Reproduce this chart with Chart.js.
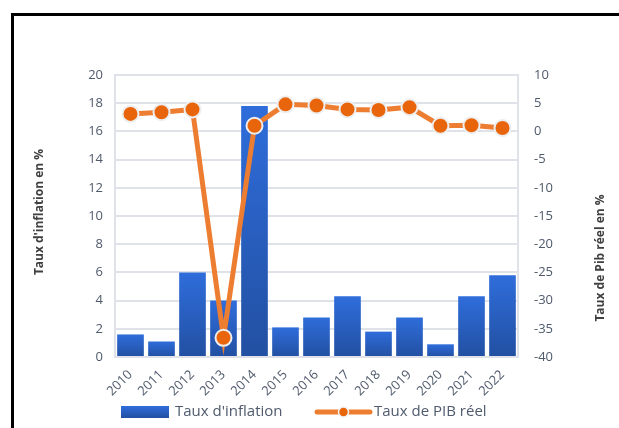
<!DOCTYPE html>
<html>
<head>
<meta charset="utf-8">
<script src="https://cdn.jsdelivr.net/npm/chart.js@4"></script>
<style>
    html, body { margin: 0; padding: 0; background: #fff; overflow: hidden; }
    #wrap { position: relative; width: 619px; height: 428px; }
    #frame { position: absolute; left: 11px; top: 13px; width: 700px; height: 500px; border: 3px solid #000; box-sizing: border-box; }
    #chart { position: absolute; left: 0; top: 0; }
</style>
</head>
<body>
<div id="wrap">
    <div id="frame"></div>
    <canvas id="chart" width="619" height="428"></canvas>
</div>
<script>
const years = ['2010', '2011', '2012', '2013', '2014', '2015', '2016', '2017', '2018', '2019', '2020', '2021', '2022'];
const inflation = [1.6, 1.1, 6.0, 4.0, 17.8, 2.1, 2.8, 4.3, 1.8, 2.8, 0.9, 4.3, 5.8];
const gdp = [3.1, 3.4, 3.9, -36.6, 1.0, 4.8, 4.6, 3.9, 3.8, 4.3, 1.0, 1.1, 0.6];

const inflationLabel = "Taux d'inflation";
const gdpLabel = 'Taux de PIB réel';
const leftTitle = "Taux d'inflation en %";
const rightTitle = 'Taux de Pib réel en %';

const FONT = "'Open Sans', 'DejaVu Sans', sans-serif";
const GRID = '#dfe3e9';
const TICK = '#4f5a6c';
const ORANGE = '#ed7d31';

const barGradient = (context) => {
    const chart = context.chart;
    if (!chart.chartArea || context.parsed == null) return '#2a5fc4';
    const yScale = chart.scales.y;
    const top = yScale.getPixelForValue(context.parsed.y);
    const bottom = yScale.getPixelForValue(0);
    const g = chart.ctx.createLinearGradient(0, top, 0, bottom);
    g.addColorStop(0, '#2f6ddb');
    g.addColorStop(1, '#2250a2');
    return g;
};

const axisTitles = {
    id: 'axisTitles',
    afterDraw(chart) {
        const { ctx, chartArea } = chart;
        ctx.save();
        ctx.font = `bold 12px ${FONT}`;
        ctx.fillStyle = '#404040';
        ctx.textAlign = 'center';
        ctx.textBaseline = 'middle';

        ctx.save();
        ctx.translate(40, (chartArea.top + chartArea.bottom) / 2 - 4);
        ctx.rotate(-Math.PI / 2);
        ctx.fillText(leftTitle, 0, 0);
        ctx.restore();

        ctx.save();
        ctx.translate(601, (chartArea.top + chartArea.bottom) / 2 + 42);
        ctx.rotate(-Math.PI / 2);
        ctx.fillText(rightTitle, 0, 0);
        ctx.restore();

        ctx.restore();
    }
};

const customLegend = {
    id: 'customLegend',
    afterDraw(chart) {
        const { ctx, chartArea } = chart;
        const y = chart.height - 16;
        ctx.save();
        ctx.font = `15px ${FONT}`;
        ctx.textBaseline = 'middle';
        ctx.fillStyle = TICK;

        let x = chartArea.left + 6;
        const g = ctx.createLinearGradient(0, y - 6, 0, y + 6);
        g.addColorStop(0, '#2f6ddb');
        g.addColorStop(1, '#2250a2');
        ctx.fillStyle = g;
        ctx.fillRect(x, y - 6, 48, 12);
        x += 54;
        ctx.fillStyle = TICK;
        ctx.fillText(inflationLabel, x, y);

        x = chartArea.left + 202;
        ctx.strokeStyle = ORANGE;
        ctx.lineWidth = 5;
        ctx.lineCap = 'round';
        ctx.beginPath();
        ctx.moveTo(x, y);
        ctx.lineTo(x + 53, y);
        ctx.stroke();
        ctx.beginPath();
        ctx.arc(x + 26.5, y, 5, 0, Math.PI * 2);
        ctx.fillStyle = '#e8650c';
        ctx.fill();
        ctx.lineWidth = 1.5;
        ctx.strokeStyle = '#f2f2f2';
        ctx.stroke();
        ctx.fillStyle = TICK;
        ctx.fillText(gdpLabel, x + 57, y);
        ctx.restore();
    }
};

new Chart(document.getElementById('chart'), {
    type: 'bar',
    data: {
        labels: years,
        datasets: [
            {
                type: 'line',
                label: gdpLabel,
                data: gdp,
                yAxisID: 'y1',
                order: 0,
                borderColor: ORANGE,
                borderWidth: 5,
                pointRadius: 8,
                pointBorderWidth: 2,
                pointBackgroundColor: '#e8650c',
                pointBorderColor: '#eeeeee',
                tension: 0
            },
            {
                label: inflationLabel,
                data: inflation,
                yAxisID: 'y',
                order: 1,
                backgroundColor: barGradient,
                categoryPercentage: 1,
                barPercentage: 0.86
            }
        ]
    },
    options: {
        responsive: false,
        animation: false,
        layout: { padding: { top: 75, left: 0, right: 0, bottom: 31 } },
        plugins: {
            legend: { display: false },
            tooltip: { enabled: false }
        },
        scales: {
            x: {
                grid: { display: false },
                border: { display: true, color: GRID, width: 2 },
                ticks: {
                    color: TICK,
                    font: { family: FONT, size: 13 },
                    minRotation: 45,
                    maxRotation: 45,
                    padding: 2
                },
                afterFit: (scale) => { scale.height = 40; }
            },
            y: {
                position: 'left',
                min: 0,
                max: 20,
                ticks: {
                    stepSize: 2,
                    color: TICK,
                    font: { family: FONT, size: 13 },
                    padding: 12
                },
                grid: { color: GRID, lineWidth: 2, drawTicks: false },
                border: { display: true, color: GRID, width: 2 },
                afterFit: (scale) => { scale.width = 115; }
            },
            y1: {
                position: 'right',
                min: -40,
                max: 10,
                ticks: {
                    stepSize: 5,
                    color: TICK,
                    font: { family: FONT, size: 13 },
                    padding: 16
                },
                grid: { display: false, drawTicks: false },
                border: { display: true, color: GRID, width: 2 },
                afterFit: (scale) => { scale.width = 101; }
            }
        }
    },
    plugins: [axisTitles, customLegend]
});
</script>
</body>
</html>
